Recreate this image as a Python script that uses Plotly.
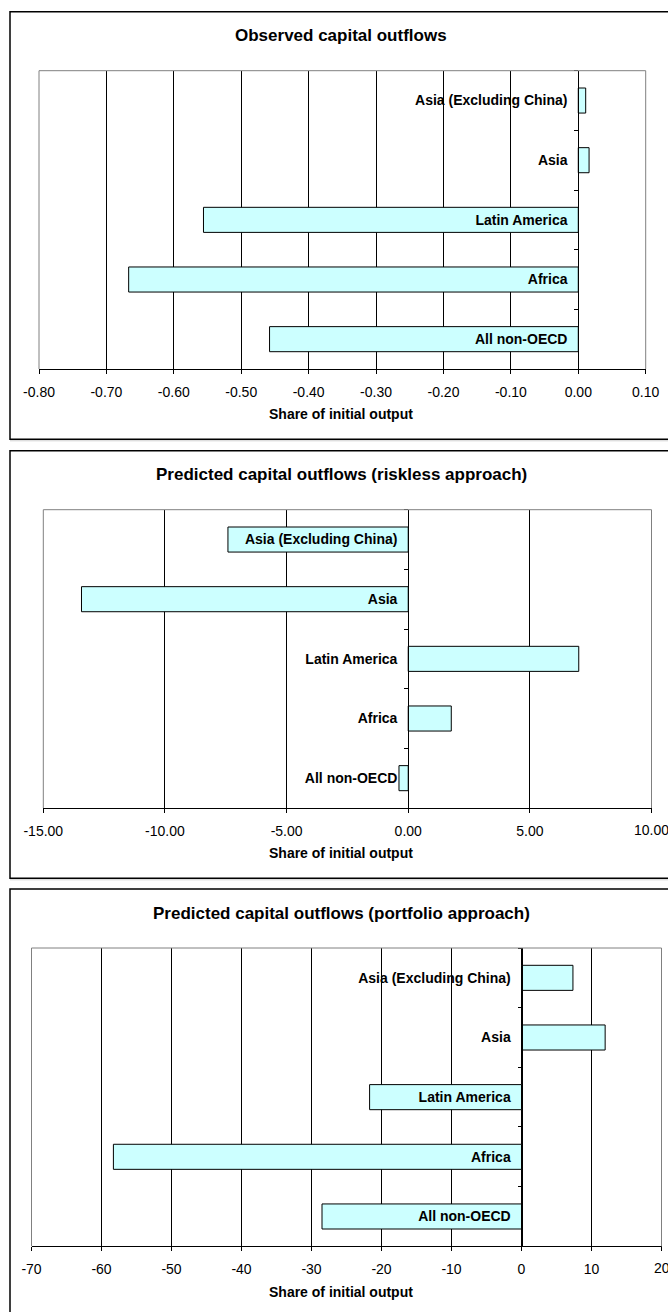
import plotly.graph_objects as go

W, H = 668, 1312

# ---------------- data ----------------
categories = ["Asia (Excluding China)", "Asia", "Latin America", "Africa", "All non-OECD"]

observed = [0.011, 0.016, -0.556, -0.667, -0.458]
riskless = [-7.41, -13.43, 7.01, 1.77, -0.38]
portfolio = [7.35, 11.95, -21.7, -58.3, -28.5]

titles = [
    "Observed capital outflows",
    "Predicted capital outflows (riskless approach)",
    "Predicted capital outflows (portfolio approach)",
]
axis_title = "Share of initial output"

ticks_1 = [-0.8, -0.7, -0.6, -0.5, -0.4, -0.3, -0.2, -0.1, 0.0, 0.1]
labels_1 = ["-0.80", "-0.70", "-0.60", "-0.50", "-0.40", "-0.30", "-0.20", "-0.10", "0.00", "0.10"]
ticks_2 = [-15, -10, -5, 0, 5, 10]
labels_2 = ["-15.00", "-10.00", "-5.00", "0.00", "5.00", "10.00"]
ticks_3 = [-70, -60, -50, -40, -30, -20, -10, 0, 10, 20]
labels_3 = ["-70", "-60", "-50", "-40", "-30", "-20", "-10", "0", "10", "20"]

series = [observed, riskless, portfolio]
tick_vals = [ticks_1, ticks_2, ticks_3]
tick_text = [labels_1, labels_2, labels_3]

# ---------------- layout geometry (pixels) ----------------
panel_tops = [11.7, 450.7, 889.0]
plot_lefts = [39.0, 43.3, 31.5]
plot_rights = [645.7, 651.5, 661.5]
PLOT_TOP_OFF = 59.0
PLOT_BOT_OFF = 357.3
TITLE_OFF = 24.0
TICKLABEL_OFF = 379.0
AXTITLE_OFF = 402.5
BOX_H = 427.6
CENTER_X = 341.0

FONT = "Liberation Sans, Arial, Helvetica, sans-serif"
FILL = "#CCFFFF"

fig = go.Figure()
layout = dict(
    width=W, height=H,
    margin=dict(l=0, r=0, t=0, b=0, pad=0, autoexpand=False),
    paper_bgcolor="white", plot_bgcolor="white",
    showlegend=False,
    bargap=0.58,
    font=dict(family=FONT, size=14, color="black"),
)
shapes = []
annotations = []

for i in range(3):
    n = "" if i == 0 else str(i + 1)
    T = panel_tops[i]
    l, r = plot_lefts[i], plot_rights[i]
    xmin, xmax = tick_vals[i][0], tick_vals[i][-1]

    fig.add_trace(go.Bar(
        x=series[i], y=categories, orientation="h",
        marker=dict(color=FILL, line=dict(color="black", width=1)),
        xaxis="x" + n, yaxis="y" + n, hoverinfo="x+y",
    ))

    layout["xaxis" + n] = dict(
        domain=[l / W, r / W], range=[xmin, xmax],
        tickmode="array", tickvals=tick_vals[i], ticktext=tick_text[i],
        showgrid=True, gridcolor="black", gridwidth=1,
        showline=True, linecolor="black", linewidth=1,
        ticks="outside", ticklen=4, tickcolor="black", tickwidth=1,
        zeroline=False, anchor="y" + n, fixedrange=True, automargin=False,
        tickfont=dict(family=FONT, size=14, color="black"),
        ticklabelstandoff=6,
    )
    pos = (l + (0 - xmin) / (xmax - xmin) * (r - l)) / W
    layout["yaxis" + n] = dict(
        domain=[1 - (T + PLOT_BOT_OFF) / H, 1 - (T + PLOT_TOP_OFF) / H],
        type="category", categoryorder="array", categoryarray=categories,
        autorange="reversed",
        anchor="free", position=pos,
        showline=True, linecolor="black", linewidth=1,
        ticks="outside", ticklen=4, tickcolor="black", tickson="boundaries",
        showgrid=False, zeroline=False, fixedrange=True, automargin=False,
        tickfont=dict(family=FONT, size=14, color="black", weight="bold"),
        ticklabelstandoff=8,
    )

    # panel frame
    shapes.append(dict(
        type="rect", xref="paper", yref="paper",
        x0=10 / W, x1=1.05, y0=1 - (T + BOX_H) / H, y1=1 - T / H,
        line=dict(color="black", width=1.5), fillcolor="rgba(0,0,0,0)", layer="below",
    ))
    # plot-area border (grey) on left, top, right
    for (ax0, ay0, ax1, ay1) in [(0, 0, 0, 1), (0, 1, 1, 1), (1, 0, 1, 1)]:
        shapes.append(dict(
            type="line", xref="x" + n + " domain", yref="y" + n + " domain",
            x0=ax0, y0=ay0, x1=ax1, y1=ay1,
            line=dict(color="#808080", width=1), layer="above",
        ))

    annotations.append(dict(
        text="<b>" + titles[i] + "</b>", xref="paper", yref="paper",
        x=CENTER_X / W, y=1 - (T + TITLE_OFF) / H, xanchor="center", yanchor="middle",
        showarrow=False, font=dict(family=FONT, size=17, color="black"),
    ))
    annotations.append(dict(
        text="<b>" + axis_title + "</b>", xref="paper", yref="paper",
        x=CENTER_X / W, y=1 - (T + AXTITLE_OFF) / H, xanchor="center", yanchor="middle",
        showarrow=False, font=dict(family=FONT, size=14, color="black"),
    ))
    # last tick label, which runs past the page edge (plotly would drop it)
    if i > 0:
        annotations.append(dict(
            text=tick_text[i][-1], xref="x" + n, yref="paper",
            x=tick_vals[i][-1], y=1 - (T + TICKLABEL_OFF) / H,
            xanchor="center", yanchor="middle", showarrow=False,
            font=dict(family=FONT, size=14, color="black"),
        ))

# faint shadow line below the first two frames
for T in panel_tops[:2]:
    shapes.append(dict(
        type="line", xref="paper", yref="paper",
        x0=10 / W, x1=1.05, y0=1 - (T + BOX_H + 1.5) / H, y1=1 - (T + BOX_H + 1.5) / H,
        line=dict(color="#d0d0d0", width=1), layer="below",
    ))

layout["shapes"] = shapes
layout["annotations"] = annotations
fig.update_layout(**layout)

fig.write_html("out.html", post_script="document.body.style.margin='0px';",
               config={"displayModeBar": False})
